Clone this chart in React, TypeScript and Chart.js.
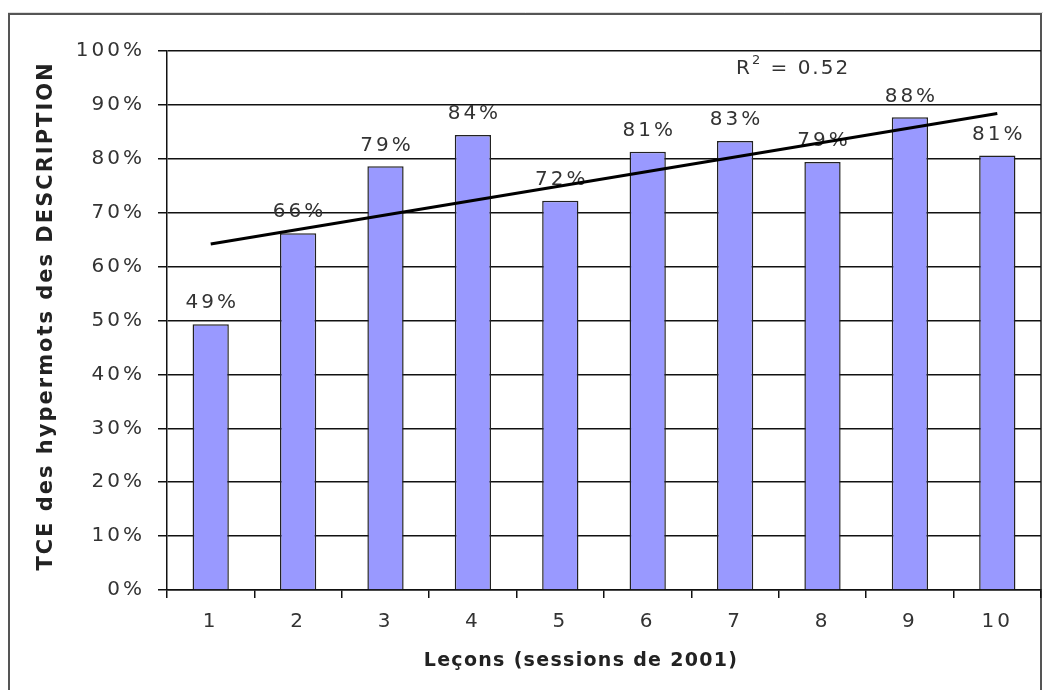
import React, { useEffect, useRef } from 'react';
import { Chart, registerables } from 'chart.js';

Chart.register(...registerables);

const categories = ['1', '2', '3', '4', '5', '6', '7', '8', '9', '10'];
const tceValues = [49.3, 66.2, 78.6, 84.4, 72.2, 81.3, 83.3, 79.4, 87.7, 80.6];
const trendValues = [64.2, null, null, null, null, null, null, null, null, 88.4];
const yTickValues = [0, 10, 20, 30, 40, 50, 60, 70, 80, 90, 100];
const r2Value = '0.52';
const xTitle = 'Leçons (sessions de 2001)';
const yTitle = 'TCE des hypermots des DESCRIPTION';

const FONT = '"DejaVu Sans", Verdana, sans-serif';

const decor = {
  id: 'decor',
  beforeDraw(chart: any) {
    const { ctx } = chart;
    ctx.save();
    ctx.fillStyle = '#ffffff';
    ctx.fillRect(0, 0, chart.width, chart.height);
    ctx.strokeStyle = '#dddddd';
    ctx.lineWidth = 1;
    ctx.beginPath();
    ctx.moveTo(8, 12.5);
    ctx.lineTo(1043, 12.5);
    ctx.stroke();
    ctx.strokeStyle = '#555555';
    ctx.lineWidth = 2;
    ctx.strokeRect(9, 14, 1032, 720);
    ctx.restore();
    ctx.letterSpacing = '3px';
  },
  beforeDatasetsDraw(chart: any) {
    const { ctx } = chart;
    const meta = chart.getDatasetMeta(1);
    ctx.save();
    ctx.font = `20px ${FONT}`;
    ctx.letterSpacing = '3px';
    ctx.fillStyle = '#333333';
    ctx.textAlign = 'center';
    ctx.textBaseline = 'middle';
    meta.data.forEach((bar: any, i: number) => {
      ctx.fillText(Math.round(tceValues[i]) + '%', bar.x + 1.5, bar.y - 21);
    });
    ctx.restore();
  },
  afterDraw(chart: any) {
    const { ctx } = chart;
    ctx.save();
    // R² annotation
    ctx.fillStyle = '#333333';
    ctx.textBaseline = 'middle';
    ctx.textAlign = 'left';
    ctx.letterSpacing = '2px';
    ctx.font = `20px ${FONT}`;
    let x = 736;
    const y = 69;
    ctx.fillText('R', x, y);
    x += ctx.measureText('R').width;
    ctx.font = `13px ${FONT}`;
    ctx.fillText('2', x, y - 8);
    x += ctx.measureText('2').width;
    ctx.font = `20px ${FONT}`;
    ctx.fillText(' = ' + r2Value, x, y);

    // axis titles
    ctx.fillStyle = '#222222';
    ctx.font = `bold 19px ${FONT}`;
    ctx.letterSpacing = '1.3px';
    ctx.textAlign = 'center';
    ctx.fillText(xTitle, 581, 661);
    ctx.font = `bold 21px ${FONT}`;
    ctx.letterSpacing = '2px';
    ctx.translate(47, 316);
    ctx.rotate(-Math.PI / 2);
    ctx.fillText(yTitle, 0, 0);
    ctx.restore();
  },
};

export default function App() {
  const ref = useRef<HTMLCanvasElement>(null);
  useEffect(() => {
    if (!ref.current) return;
    Chart.defaults.font.family = FONT;
    const chart = new Chart(ref.current, {
      type: 'bar',
      data: {
        labels: categories,
        datasets: [
          {
            type: 'line' as any,
            data: trendValues as any,
            borderColor: '#000000',
            borderWidth: 3,
            pointRadius: 0,
            spanGaps: true,
            fill: false,
            order: 0,
          } as any,
          {
            type: 'bar',
            data: tceValues,
            backgroundColor: '#9999ff',
            borderColor: '#222222',
            borderWidth: 1.5,
            categoryPercentage: 1,
            barPercentage: 0.415,
            order: 1,
          },
        ],
      },
      options: {
        responsive: false,
        animation: false,
        events: [],
        layout: { padding: { top: 51, right: 4, left: 0, bottom: 0 } },
        plugins: { legend: { display: false }, tooltip: { enabled: false }, title: { display: false } },
        scales: {
          x: {
            offset: true,
            grid: { display: true, drawOnChartArea: false, drawTicks: true, tickLength: 8, color: '#111111', lineWidth: 1.5, offset: true },
            border: { display: true, color: '#111111', width: 1.5 },
            ticks: { color: '#333333', font: { size: 20 }, padding: 12, maxRotation: 0 },
            afterFit: (s: any) => { s.height = 100; },
          },
          y: {
            min: 0,
            max: 100,
            afterBuildTicks: (s: any) => { s.ticks = yTickValues.map((v) => ({ value: v })); },
            ticks: { callback: (v: any) => v + '%', color: '#333333', font: { size: 20 }, padding: 13 },
            grid: { color: '#111111', lineWidth: 1.5, tickLength: 9 },
            border: { display: true, color: '#111111', width: 1.5 },
            afterFit: (s: any) => { s.width = 167; },
          },
        },
      },
      plugins: [decor],
    });
    return () => chart.destroy();
  }, []);
  return (
    <div style={{ position: 'fixed', left: 0, top: 0, width: 1045, height: 690 }}>
      <canvas ref={ref} width={1045} height={690} />
    </div>
  );
}
